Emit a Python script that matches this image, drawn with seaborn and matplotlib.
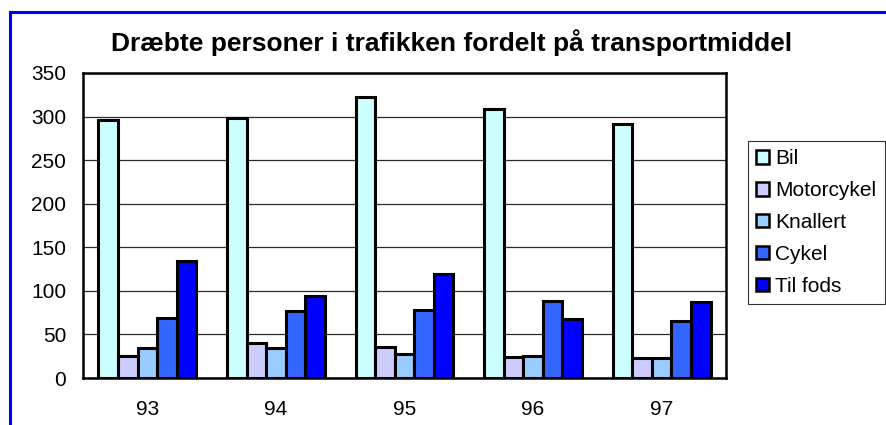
import matplotlib
matplotlib.use("Agg")
import matplotlib.pyplot as plt
import numpy as np
import pandas as pd
import seaborn as sns
from matplotlib.patches import Rectangle, Patch

# ── Data ──────────────────────────────────────────────────────────────────
years      = ["93", "94", "95", "96", "97"]
transport  = ["Bil", "Motorcykel", "Knallert", "Cykel", "Til fods"]
bil        = [296, 298, 322, 309, 291]
motorcykel = [25, 40, 36, 24, 23]
knallert   = [34, 35, 27, 25, 23]
cykel      = [69, 77, 78, 88, 65]
til_fods   = [134, 94, 119, 68, 87]
colors     = ["#CCFFFF", "#CCCCFF", "#99CCFF", "#3366FF", "#0000FF"]

df = pd.DataFrame({"aar": years, "Bil": bil, "Motorcykel": motorcykel,
                   "Knallert": knallert, "Cykel": cykel, "Til fods": til_fods})
df = df.melt(id_vars="aar", var_name="transport", value_name="antal")

sns.set_style("white")
plt.rcParams["font.family"] = ["Liberation Sans", "DejaVu Sans"]
plt.rcParams["text.color"] = "black"
plt.rcParams["xtick.color"] = "black"
plt.rcParams["ytick.color"] = "black"

W, H = 886, 425
fig = plt.figure(figsize=(W / 100, H / 100), dpi=100)
ax = fig.add_axes([83 / W, 1 - 378 / H, (726 - 83) / W, (378 - 73) / H])

sns.barplot(data=df, x="aar", y="antal", hue="transport", hue_order=transport,
            palette=colors, saturation=1, width=0.76, edgecolor="black",
            linewidth=2.2, ax=ax, legend=False, zorder=3)

ax.set_ylim(0, 350)
ax.set_yticks(np.arange(0, 351, 50))
ax.yaxis.grid(True, color="#2a2a2a", linewidth=0.9, zorder=0)
ax.set_axisbelow(True)
ax.set_xlabel("")
ax.set_ylabel("")
ax.tick_params(axis="y", length=0, pad=12, labelsize=15)
ax.tick_params(axis="x", length=0, pad=16, labelsize=15)
for sp in ax.spines.values():
    sp.set_visible(True)
    sp.set_color("black")
    sp.set_linewidth(1.8)

fig.text(452 / W, 1 - 43 / H, "Dræbte personer i trafikken fordelt på transportmiddel",
         ha="center", va="center", fontsize=19, fontweight="bold")

# Legende
handles = [Patch(facecolor=c, edgecolor="black", linewidth=1.8) for c in colors]
leg = fig.legend(handles, transport, loc="upper left",
                 bbox_to_anchor=(748 / W, 1 - 141 / H), bbox_transform=fig.transFigure,
                 fontsize=15, frameon=True, fancybox=False, borderaxespad=0,
                 handlelength=0.6, handleheight=0.6, handletextpad=0.3,
                 labelspacing=0.62, borderpad=0.4)
leg.get_frame().set_edgecolor("black")
leg.get_frame().set_linewidth(0.8)

# blå ramme om diagrammet
fig.patches.append(Rectangle((9.5 / W, -0.1), 1.2, 1 + 0.1 - 12.5 / H,
                             transform=fig.transFigure, fill=False,
                             edgecolor="#0000FF", linewidth=2.2, clip_on=False))

fig.savefig("out.png", dpi=100)
